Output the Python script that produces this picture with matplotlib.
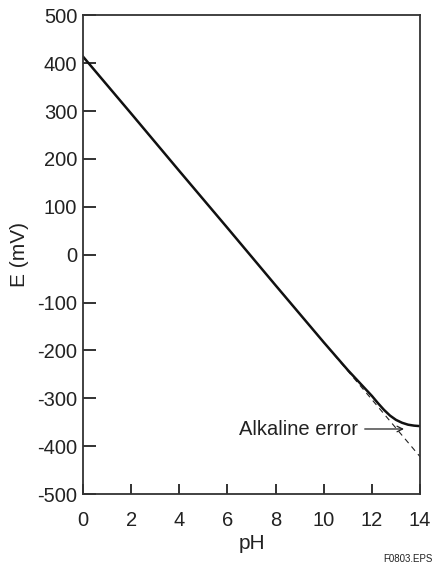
import matplotlib.pyplot as plt

plt.rcParams['font.family'] = ['Liberation Sans', 'DejaVu Sans']
plt.rcParams['axes.unicode_minus'] = False

# ---- DATA ----
ph_ideal = [0, 14]
e_ideal = [414, -422]

ph_meas = [0, 2, 4, 6, 8, 10, 11, 11.5, 12, 12.25, 12.5, 12.75, 13, 13.25, 13.5, 13.75, 14]
e_meas = [414, 295, 175, 56, -64, -183, -241, -268, -295, -310, -324, -336, -345, -351, -355, -357, -358]

x_ticks = [0, 2, 4, 6, 8, 10, 12, 14]
y_ticks = [-500, -400, -300, -200, -100, 0, 100, 200, 300, 400, 500]

# ---- PLOT ----
fig = plt.figure(figsize=(4.34, 5.66), dpi=100)
ax = fig.add_axes([0.191, 0.127, 0.777, 0.846])

ax.plot(ph_ideal, e_ideal, color="#222222", lw=0.8, ls=(0, (5, 4)))
ax.plot(ph_meas, e_meas, color="#111111", lw=1.8)

ax.set_xlim(0, 14)
ax.set_ylim(-500, 500)
ax.set_xticks(x_ticks)
ax.set_yticks(y_ticks)
ax.tick_params(axis="x", direction="in", length=7, width=1.3, pad=12,
               labelsize=14.5, colors="#222222")
ax.tick_params(axis="y", direction="in", length=9, width=1.3, pad=4,
               labelsize=14.5, colors="#222222")
for s in ax.spines.values():
    s.set_linewidth(1.3)
    s.set_color("#333333")

ax.set_xlabel("pH", fontsize=15, color="#222222", labelpad=3)
ax.set_ylabel("E (mV)", fontsize=15, color="#222222", labelpad=6)

# label and arrow for the alkaline error
ax.text(11.42, -366, "Alkaline error", fontsize=14.5, color="#222222",
        ha="right", va="center")
ax.annotate("", xy=(13.33, -364), xytext=(11.7, -364),
            arrowprops=dict(arrowstyle="->", lw=0.9, color="#222222",
                            shrinkA=0, shrinkB=0))

fig.text(0.997, 0.012, "F0803.EPS", fontsize=7, ha="right", va="center",
         color="#222222")

plt.savefig("out.png", dpi=100)
